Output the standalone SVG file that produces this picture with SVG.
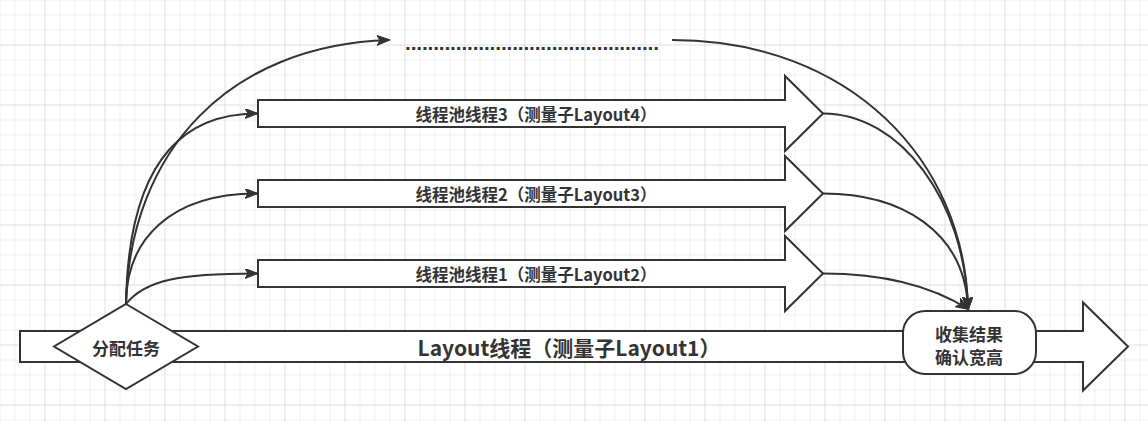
<svg xmlns="http://www.w3.org/2000/svg" width="1148" height="422" viewBox="0 0 1148 422">
<style>
.shape{fill:#ffffff;stroke:#333333;stroke-width:2}
.edge{fill:none;stroke:#333333;stroke-width:2;marker-end:url(#arrow)}
.lbl{font-family:"Noto Sans CJK SC","Microsoft YaHei",sans-serif;font-weight:bold;fill:#333333;text-anchor:middle;dominant-baseline:central}
</style>
<defs>
<pattern id="minor" x="14.5" y="14.5" width="15" height="15" patternUnits="userSpaceOnUse">
<path d="M0,0 H15 M0,0 V15" fill="none" stroke="#e3e3e3" stroke-width="1"/>
</pattern>
<pattern id="major" x="44.5" y="44.5" width="60" height="60" patternUnits="userSpaceOnUse">
<path d="M0,0 H60 M0,0 V60" fill="none" stroke="#d6d6d6" stroke-width="1"/>
</pattern>
<marker id="arrow" markerUnits="userSpaceOnUse" markerWidth="14" markerHeight="12" refX="12" refY="5" orient="auto">
<path d="M0,0 L13,5 L0,10 L3,5 Z" fill="#333333" stroke="#333333" stroke-width="1"/>
</marker>
</defs>
<rect width="1148" height="422" fill="#ffffff"/>
<rect width="1148" height="422" fill="url(#minor)"/>
<rect width="1148" height="422" fill="url(#major)"/>

<g id="main-thread">
<polygon class="shape" points="20,331 1083,331 1083,302.5 1128,346.5 1083,390.5 1083,362 20,362"/>
<text class="lbl" x="569" y="347" font-size="21">Layout线程（测量子Layout1）</text>
</g>

<g id="pool-thread-3">
<polygon class="shape" points="258,100 785,100 785,76 823,113.5 785,151 785,127 258,127"/>
<text class="lbl" x="536" y="114" font-size="16.5">线程池线程3（测量子Layout4）</text>
</g>
<g id="pool-thread-2">
<polygon class="shape" points="258,180 785,180 785,156 823,193.5 785,231 785,207 258,207"/>
<text class="lbl" x="536" y="194" font-size="16.5">线程池线程2（测量子Layout3）</text>
</g>
<g id="pool-thread-1">
<polygon class="shape" points="258,260 785,260 785,236 823,273.5 785,311 785,287 258,287"/>
<text class="lbl" x="536" y="274" font-size="16.5">线程池线程1（测量子Layout2）</text>
</g>

<g id="more-threads">
<text x="532" y="50" font-family="Liberation Sans, Arial, sans-serif" font-weight="bold" font-size="21" fill="#333333" text-anchor="middle" textLength="254" lengthAdjust="spacing">.............................................</text>
</g>

<g id="dispatch">
<polygon class="shape" points="126,304 198,346.5 126,389 54,346.5"/>
<text class="lbl" x="126" y="347" font-size="17">分配任务</text>
</g>

<g id="collect">
<rect class="shape" x="903" y="311" width="133" height="63" rx="22" ry="22"/>
<text class="lbl" x="969" y="333" font-size="17">收集结果</text>
<text class="lbl" x="969" y="356" font-size="17">确认宽高</text>
</g>

<g id="connectors">
<path class="edge" d="M126,304 C130,150 230,45 389,40"/>
<path class="edge" d="M126,304 C128,180 170,113.5 257,113.5"/>
<path class="edge" d="M126,304 C126,240 170,193.5 257,193.5"/>
<path class="edge" d="M126,304 C145,280 180,273.5 257,273.5"/>
<path class="edge" d="M672,40 C850,40 965,160 968,309"/>
<path class="edge" d="M823,113.5 C900,113.5 965,200 968,309"/>
<path class="edge" d="M823,193.5 C900,193.5 965,230 968,309"/>
<path class="edge" d="M823,273.5 C880,273.5 930,285 968,309"/>
</g>
</svg>
